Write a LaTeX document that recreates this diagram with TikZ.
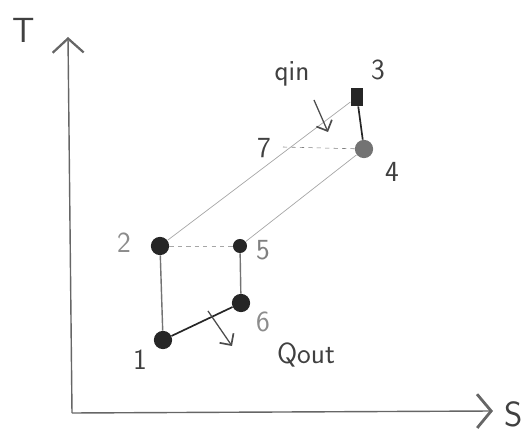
\documentclass[tikz,border=0pt]{standalone}
\usetikzlibrary{arrows.meta}
\begin{document}
\begin{tikzpicture}[x=0.025cm,y=-0.025cm] % 1 unit = 1 px of the sketch
\tikzset{
  dot/.style={circle,fill=black!85,inner sep=0pt,minimum size=13},
  lbl/.style={font=\sffamily\huge,text=black!75},
  thin line/.style={draw=black!35,line width=0.5pt},
  heavy line/.style={draw=black!85,line width=1.2pt},
}
\useasboundingbox (0,0) rectangle (529,439);

% --------- ÉTATS ----------
\node[dot] (p1) at (163,340) {};
\node[dot] (p2) at (160,246) {};
\node[dot,minimum size=10] (p5) at (240,246) {};
\node[dot] (p6) at (241,303) {};
\node[rectangle,fill=black!85,inner sep=0pt,minimum width=9,minimum height=13] (p3) at (357,97) {};
\node[dot,fill=black!55] (p4) at (364,149) {};
\coordinate (p7) at (283,147);
% --------------------------

% Axes
\coordinate (o) at (72,413);
\draw[black!60,line width=1pt,-{Straight Barb[length=10,width=22,line width=1.6pt]}] (o) -- (68,37);
\draw[black!60,line width=1pt,-{Straight Barb[length=10,width=24,line width=2pt]}] (o) -- (493,411);
\node[lbl,font=\sffamily\Huge] (tlab) at (24,30) {T};
\node[lbl,font=\sffamily\Huge] (slab) at (514,414) {S};

% Cycle
\draw[thin line] (p2) -- (p3);
\draw[thin line] (p5) -- (p4);
\draw[thin line,dashed] (p2) -- (p5);
\draw[black!50,dashed] (p7) -- (p4);
\draw[draw=black!55,line width=1pt] (p1) -- (p2);
\draw[draw=black!55,line width=1pt] (p5) -- (p6);
\draw[heavy line] (p1) -- (p6);
\draw[heavy line] (p3) -- (p4);

% Chaleurs
\coordinate (qo1) at (208,311);
\coordinate (qo2) at (232,346);
\draw[black!70,line width=0.9pt,-{Straight Barb[length=6,width=12,line width=1.2pt]}] (qo1) -- (qo2);
\coordinate (qi1) at (314,100);
\coordinate (qi2) at (328,132);
\draw[black!70,line width=0.9pt,-{Straight Barb[length=6,width=12,line width=1.2pt]}] (qi1) -- (qi2);
\node[lbl] (qin) at (292,74) {qin};
\node[lbl] (qout) at (306,355) {Qout};

% Numéros
\node[lbl] (l1) at (140,360) {1};
\node[lbl,text=black!45] (l2) at (124,243) {2};
\node[lbl] (l3) at (378,70) {3};
\node[lbl] (l4) at (392,172) {4};
\node[lbl,text=black!50] (l5) at (263,250) {5};
\node[lbl,text=black!45] (l6) at (263,322) {6};
\node[lbl] (l7) at (264,148) {7};
\end{tikzpicture}
\end{document}
